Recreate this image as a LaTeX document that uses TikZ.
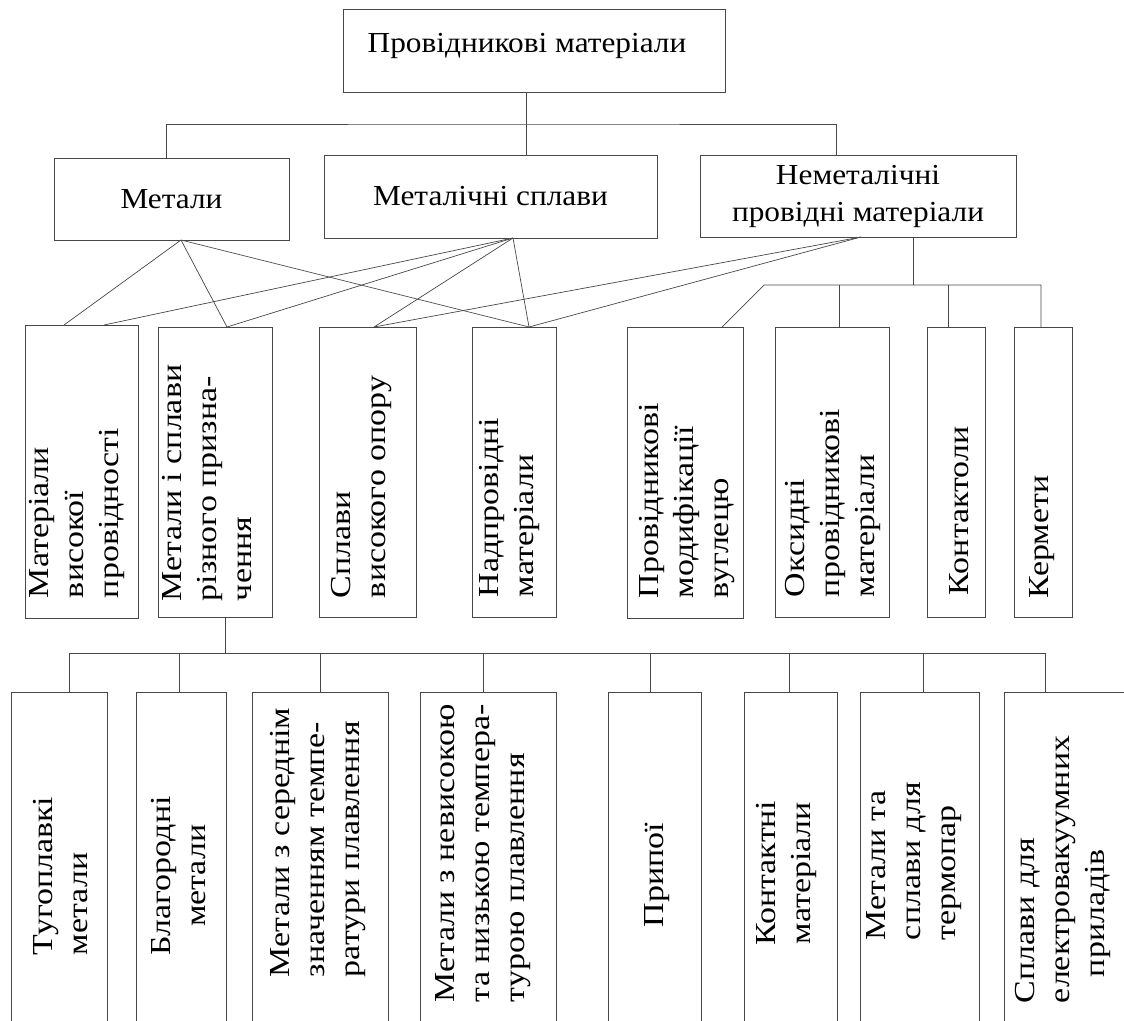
\documentclass[tikz,border=0pt]{standalone}
\usepackage{fontspec}
\setmainfont{Liberation Serif}
\newfontfamily\vfam[FakeStretch=1.17]{Liberation Serif}
\newfontfamily\hfam[FakeStretch=1.08]{Liberation Serif}
\newcommand\vf{\vfam\fontsize{29}{35}\selectfont}
\newcommand\hf{\hfam\fontsize{29}{37}\selectfont}
\newcommand\mybox[7]{\node[box, minimum width={(#4-#2)*1pt}, minimum height={(#5-#3)*1pt}, #6] (#1) at ({(#2+#4)/2},{(#3+#5)/2}) {#7};}
\tikzset{
  box/.style={draw=black!72, line width=0.9pt, inner sep=0pt, outer sep=0pt, font=\hf, align=center},
  con/.style={draw=black!72, line width=0.7pt},
  vt/.style={rotate=90, anchor=north west, inner sep=0pt, outer sep=0pt, align=left, font=\vf, execute at begin node=\strut},
  vtc/.style={vt, anchor=north, align=center},
}
\begin{document}
\begin{tikzpicture}[x=1pt,y=-1pt]
\useasboundingbox (0,0) rectangle (1124,1020);
\clip (0,0) rectangle (1124,1020);
% level 1 and 2
\mybox{top}{343}{9}{725}{92}{}{}
\node[font=\hf, inner sep=0pt] (ttop) at (527,46) {Провідникові матеріали};
\mybox{Met}{54}{158}{289}{240}{}{Метали}
\mybox{MS}{324}{155}{657}{238}{}{Металічні сплави}
\mybox{NM}{700}{155}{1016}{237}{}{Неметалічні\\провідні матеріали}
% level 3
\mybox{A}{25}{325}{138}{618}{}{}
\mybox{B}{158}{327}{272}{617}{}{}
\mybox{C}{319}{327}{416}{617}{}{}
\mybox{D}{472}{327}{556}{617}{}{}
\mybox{E}{627}{327}{743}{618}{}{}
\mybox{F}{775}{327}{889}{617}{}{}
\mybox{G}{927}{327}{985}{617}{}{}
\mybox{H}{1014}{327}{1072}{617}{}{}
% level 4
\mybox{T1}{11}{692}{107}{1040}{}{}
\mybox{T2}{136}{692}{226}{1040}{}{}
\mybox{T3}{252}{692}{388}{1040}{}{}
\mybox{T4}{420}{692}{556}{1040}{}{}
\mybox{T5}{608}{692}{701}{1040}{}{}
\mybox{T6}{744}{692}{837}{1040}{}{}
\mybox{T7}{860}{692}{979}{1040}{}{}
\mybox{T8}{1004}{692}{1140}{1040}{}{}
% texts
\node[vt] (tA) at (29.5,598) {Матеріали\\високої\\провідності};
\node[vt] (tB) at (162,601) {Метали і сплави\\різного призна-\\чення};
\node[vt] (tC) at (331.5,598) {Сплави\\високого опору};
\node[vt] (tD) at (479.5,597) {Надпровідні\\матеріали};
\node[vt] (tE) at (639.5,598) {Провідникові\\модифікації\\вуглецю};
\node[vt] (tF) at (785.5,597) {Оксидні\\провідникові\\матеріали};
\node[vt] (tG) at (943.5,595) {Контактоли};
\node[vt] (tH) at (1024,598) {Кермети};
\node[vt] (t1) at (33,955) {Тугоплавкі\\метали};
\node[vtc] (t2) at (151.5,875.7) {Благородні\\метали};
\node[vt] (t3) at (270.5,977) {Метали з середнім\\значенням темпе-\\ратури плавлення};
\node[vt] (t4) at (435.5,1002) {Метали з невисокою\\та низькою темпера-\\турою плавлення};
\node[vtc] (t5) at (638.5,875) {Припої};
\node[vtc] (t6) at (756.5,873) {Контактні\\матеріали};
\node[vt] (t7) at (866.5,940) {Метали та\\сплави для\\термопар};
\node[vt] (t8) at (1015.5,1003) {Сплави для\\електровакуумних\\\hspace*{26pt}приладів};
% connectors level 1-2
\coordinate (j1) at (526,124);
\draw[con] (top.south -| j1) -- (MS.north -| j1);
\draw[con] (Met.north -| 166,0) |- (j1) -| (NM.north -| 836,0);
% level 2-3
\draw[con] (Met.south -| 181,0) -- (A.north -| 64,0);
\draw[con] (Met.south -| 181,0) -- (B.north -| 227,0);
\draw[con] (Met.south -| 181,0) -- (D.north -| 529,0);
\draw[con] (MS.south -| 513,0) -- (A.north -| 104,0);
\draw[con] (MS.south -| 513,0) -- (B.north -| 227,0);
\draw[con] (MS.south -| 513,0) -- (C.north -| 374,0);
\draw[con] (MS.south -| 513,0) -- (D.north -| 529,0);
\draw[con] (NM.south -| 861,0) -- (C.north -| 374,0);
\draw[con] (NM.south -| 861,0) -- (D.north -| 529,0);
\coordinate (j2) at (913,285);
\draw[con] (NM.south -| j2) -- (j2);
\draw[con] (E.north -| 722,0) -- (764,285) -| (H.north -| 1041,0);
\draw[con] (F.north -| 839,0) -- ++(0,-42);
\draw[con] (G.north -| 948,0) -- ++(0,-42);
% level 3-4
\coordinate (j3) at (225,653);
\draw[con] (B.south -| j3) -- (j3);
\draw[con] (T1.north -| 69,0) -- ++(0,-39) -| (T8.north -| 1045,0);
\draw[con] (T2.north -| 179,0) -- ++(0,-39);
\draw[con] (T3.north -| 320,0) -- ++(0,-39);
\draw[con] (T4.north -| 483,0) -- ++(0,-39);
\draw[con] (T5.north -| 650,0) -- ++(0,-39);
\draw[con] (T6.north -| 789,0) -- ++(0,-39);
\draw[con] (T7.north -| 923,0) -- ++(0,-39);
\end{tikzpicture}
\end{document}
